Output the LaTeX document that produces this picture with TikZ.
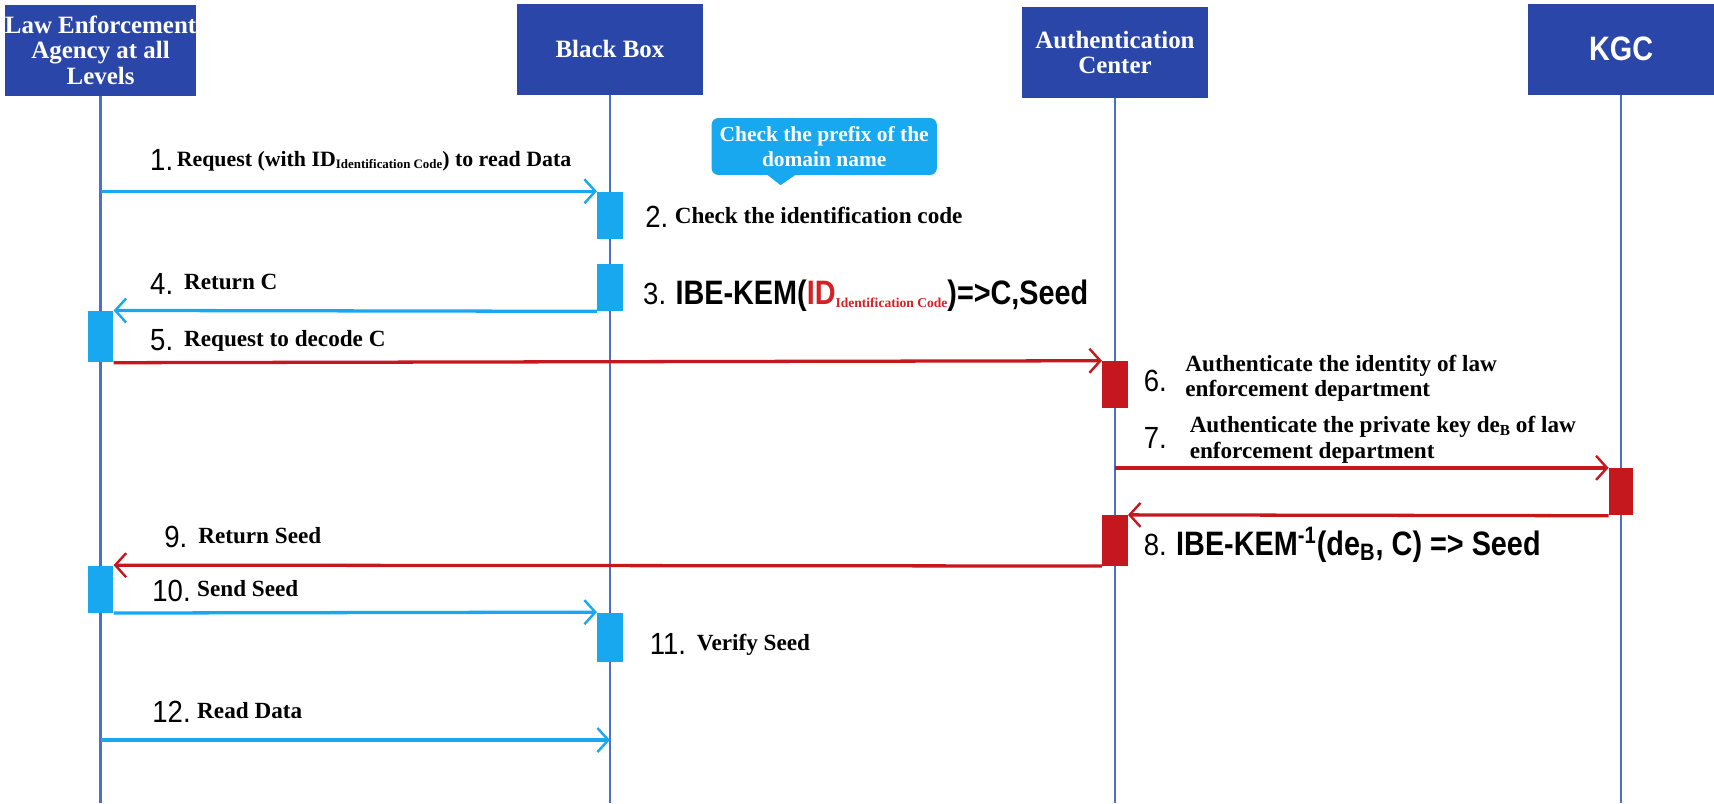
\documentclass[tikz,border=0pt]{standalone}
\usepackage{fontspec}
\setmainfont{Liberation Serif}
\newfontfamily\numfont[FakeStretch=0.9]{Liberation Sans}
\newfontfamily\kemfont[FakeStretch=0.85]{Liberation Sans}
\usetikzlibrary{arrows.meta}

\definecolor{headblue}{RGB}{42,70,168}
\definecolor{lineblue}{RGB}{74,112,204}
\definecolor{skyblue}{RGB}{24,168,240}
\definecolor{msgred}{RGB}{196,24,30}
\definecolor{idred}{RGB}{214,32,36}

\newcommand{\stepno}[1]{\raisebox{-2pt}{\numfont\mdseries\fontsize{14}{14}\selectfont #1}}
\newcommand{\tinysub}[2][5.9]{\raisebox{-1.2pt}{\fontsize{#1}{#1}\selectfont #2}}

\tikzset{
  head/.style={fill=headblue, text=white, align=center, inner sep=0pt,
    minimum width=85pt, minimum height=41.5pt,
    font=\fontsize{11.4}{11.6}\selectfont\bfseries},
  life/.style={draw=lineblue, line width=1pt},
  bar/.style={minimum width=11.5pt, inner sep=0pt, anchor=north},
  bluebar/.style={bar, fill=skyblue},
  redbar/.style={bar, fill=msgred},
  msg/.style={line width=1.5pt, -{Straight Barb[length=5pt,width=11pt,line width=1.1pt]}},
  bluemsg/.style={msg, draw=skyblue},
  redmsg/.style={msg, draw=msgred},
  lbl/.style={anchor=base west, inner sep=0pt, align=left,
    font=\fontsize{10.6}{11.5}\selectfont\bfseries},
  numlbl/.style={anchor=base west, inner sep=0pt, font=\numfont\fontsize{14}{14}\selectfont},
  kem/.style={anchor=base west, inner sep=0pt, font=\kemfont\fontsize{15.5}{15.5}\selectfont\bfseries},
  note/.style={fill=skyblue, text=white, rounded corners=3pt, align=center, inner sep=0pt,
    minimum width=103pt, minimum height=26pt, font=\fontsize{9.8}{11.2}\selectfont\bfseries},
}

\begin{document}
\begin{tikzpicture}[x=0.5pt, y=-0.5pt]
\useasboundingbox (0,0) rectangle (1568,735);

% participants
\node[head] (le)  at (92,46)   {Law Enforcement\\Agency at all\\Levels};
\node[head] (bb)  at (558,45)  {Black Box};
\node[head] (ac)  at (1020,48) {Authentication\\Center};
\node[head, font=\kemfont\fontsize{15.5}{15.5}\selectfont\bfseries] (kgc) at (1483,45) {KGC};

% lifelines
\coordinate (leend)  at (92,735);
\coordinate (bbend)  at (558,735);
\coordinate (acend)  at (1020,735);
\coordinate (kgcend) at (1483,735);
\draw[life] (le.south) -- (leend);
\draw[life] (bb.south) -- (bbend);
\draw[life] (ac.south) -- (acend);
\draw[life] (kgc.south) -- (kgcend);

% activation bars
\node[bluebar, minimum height=21.5pt] (bb1)  at (558,175)  {};
\node[bluebar, minimum height=21.5pt] (bb2)  at (558,241)  {};
\node[bluebar, minimum height=23.5pt] (le1)  at (92,284)   {};
\node[redbar,  minimum height=21.5pt] (ac1)  at (1020,330) {};
\node[redbar,  minimum height=21.5pt, minimum width=11pt] (kgc1) at (1483,428) {};
\node[redbar,  minimum height=23pt]   (ac2)  at (1020,471) {};
\node[bluebar, minimum height=21.5pt] (le2)  at (92,517)   {};
\node[bluebar, minimum height=22.5pt] (bb3)  at (558,560)  {};

% messages
\coordinate (m1)   at (92,175);
\coordinate (m7)   at (1020,428);
\coordinate (m12)  at (92,677);
\coordinate (m12e) at (558,677);
\draw[bluemsg] (m1) -- (bb1.north west);
\draw[bluemsg] (bb2.south west) -- (le1.north east);
\draw[redmsg]  (le1.south east) -- (ac1.north west);
\draw[redmsg]  (m7) -- (kgc1.north west);
\draw[redmsg]  (kgc1.south west) -- (ac2.north east);
\draw[redmsg]  (ac2.south west) -- (le2.north east);
\draw[bluemsg] (le2.south east) -- (bb3.north west);
\draw[bluemsg] (m12) -- (m12e);

% callout
\node[note] (prefix) at (754,134) {Check the prefix of the\\domain name};
\fill[skyblue] ([xshift=-27pt,yshift=1pt]prefix.south) -- ([xshift=-20pt,yshift=-4.5pt]prefix.south)
  -- ([xshift=-12pt,yshift=1pt]prefix.south) -- cycle;

% labels
\node[lbl, font=\fontsize{10}{11}\selectfont\bfseries] (t1) at (137,152) {\stepno{1.}\,Request (with ID\tinysub{Identification Code}) to read Data};
\node[lbl] (t2) at (590,204) {\stepno{2.}\;Check the identification code};
\node[kem] (t3) at (588,279) {{\numfont\mdseries\fontsize{14}{14}\selectfont 3.}\;IBE-KEM({\color{idred}ID\raisebox{-1pt}{\rmfamily\fontsize{6.2}{6.5}\selectfont Identification Code}})=>C,Seed};
\node[lbl] (t4) at (137,265) {\stepno{4.}\hspace{5pt}Return C};
\node[lbl] (t5) at (137,317) {\stepno{5.}\hspace{5pt}Request to decode C};
\node[numlbl] (n6) at (1046,358) {6.};
\node[lbl] (t6) at (1084,363) {Authenticate the identity of law\\enforcement department};
\node[numlbl] (n7) at (1046,410) {7.};
\node[lbl] (t7) at (1088,419) {Authenticate the private key de\tinysub[7]{B} of law\\enforcement department};
\node[kem] (t8) at (1046,508) {{\numfont\mdseries\fontsize{14}{14}\selectfont 8.}\;IBE-KEM\textsuperscript{-1}(de\textsubscript{B}, C) => Seed};
\node[lbl] (t9)  at (150,497) {\stepno{9.}\hspace{5pt}Return Seed};
\node[lbl] (t10) at (139,546) {\stepno{10.}\hspace{3pt}Send Seed};
\node[lbl] (t11) at (594,595) {\stepno{11.}\hspace{5pt}Verify Seed};
\node[lbl] (t12) at (139,657) {\stepno{12.}\hspace{3pt}Read Data};
\end{tikzpicture}
\end{document}
